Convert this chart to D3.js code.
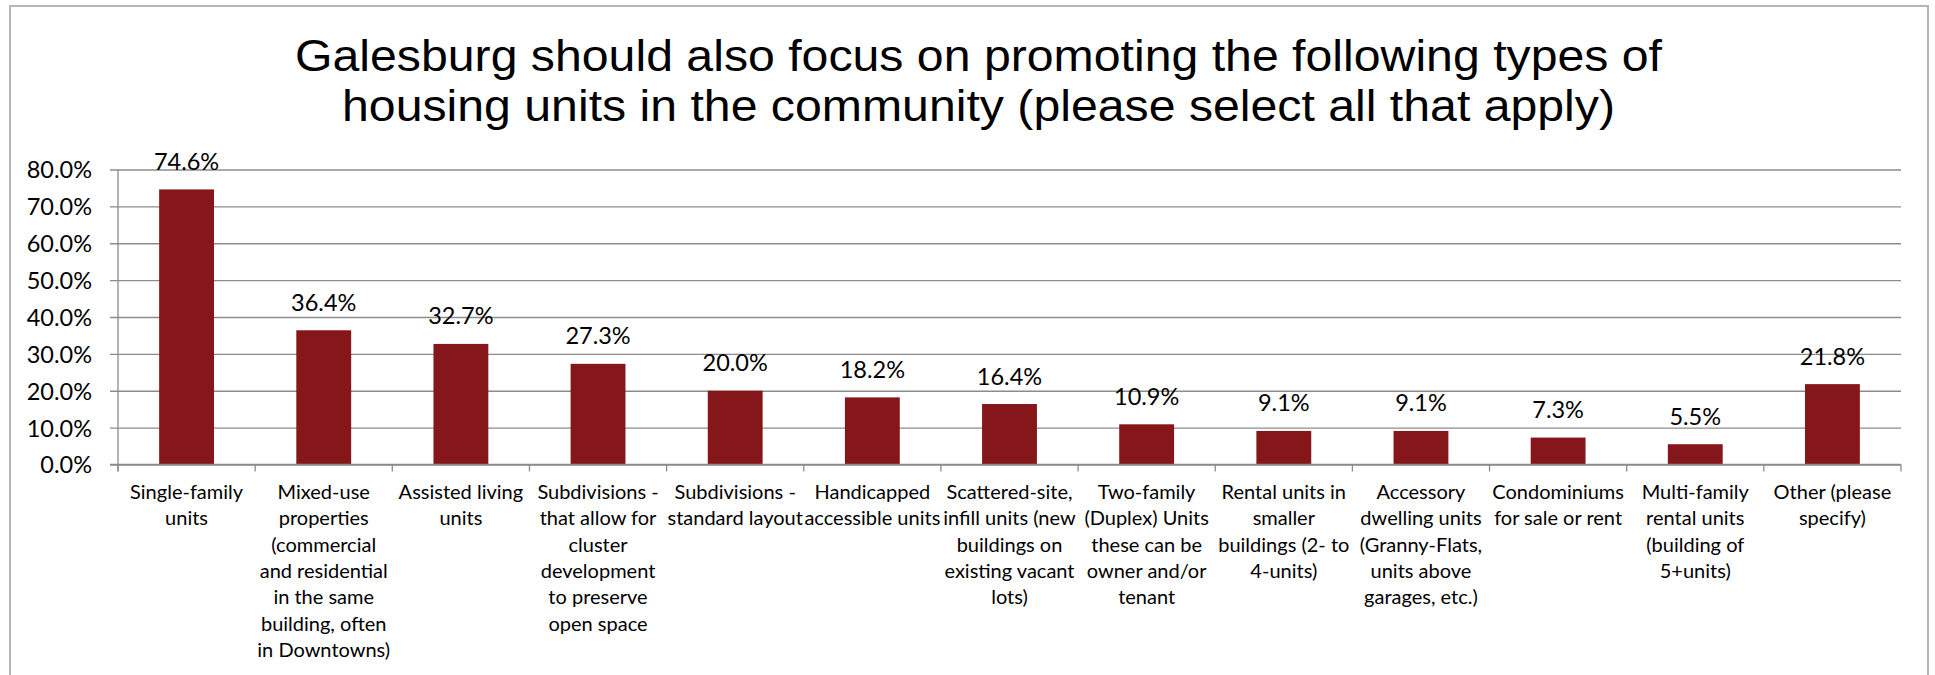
<!DOCTYPE html>
<html>
<head>
<meta charset="utf-8">
<script src="https://cdn.jsdelivr.net/npm/d3@7"></script>
<style>
  body { margin: 0; background: #fff; }
  svg { display: block; }
</style>
</head>
<body>
<svg id="housingChart" width="1935" height="675"></svg>
<script>
// survey answers, line breaks as in the original labels
const categories = [
    "Single-family\nunits",
    "Mixed-use\nproperties\n(commercial\nand residential\nin the same\nbuilding, often\nin Downtowns)",
    "Assisted living\nunits",
    "Subdivisions -\nthat allow for\ncluster\ndevelopment\nto preserve\nopen space",
    "Subdivisions -\nstandard layout",
    "Handicapped\naccessible units",
    "Scattered-site,\ninfill units (new\nbuildings on\nexisting vacant\nlots)",
    "Two-family\n(Duplex) Units\nthese can be\nowner and/or\ntenant",
    "Rental units in\nsmaller\nbuildings (2- to\n4-units)",
    "Accessory\ndwelling units\n(Granny-Flats,\nunits above\ngarages, etc.)",
    "Condominiums\nfor sale or rent",
    "Multi-family\nrental units\n(building of\n5+units)",
    "Other (please\nspecify)"
];
const percentages = [74.6, 36.4, 32.7, 27.3, 20.0, 18.2, 16.4, 10.9, 9.1, 9.1, 7.3, 5.5, 21.8];
const yTicks = [0, 10, 20, 30, 40, 50, 60, 70, 80];
const titleLines = [
    "Galesburg should also focus on promoting the following types of",
    "housing units in the community (please select all that apply)"
];

const svg = d3.select("#housingChart"),
    plot = { left: 118, right: 1901, top: 169.5, bottom: 464.5 },
    barColor = "#85171a",
    gridColor = "#8c8c8c";

// chart frame
svg.append("rect")
    .attr("x", 10).attr("y", 6)
    .attr("width", 1918).attr("height", 720)
    .attr("fill", "#fff")
    .attr("stroke", "#b5b5b5")
    .attr("stroke-width", 2);

// title (stretched to the measured widths)
const titleX = [295, 342], titleY = [71, 121], titleW = [1367, 1273];
svg.selectAll(".title")
    .data(titleLines)
    .enter().append("text")
    .attr("class", "title")
    .attr("x", (d, i) => titleX[i])
    .attr("y", (d, i) => titleY[i])
    .attr("textLength", (d, i) => titleW[i])
    .attr("lengthAdjust", "spacingAndGlyphs")
    .style("font-family", "'Liberation Sans', Arial, sans-serif")
    .style("font-size", "44px")
    .style("fill", "#000")
    .text(d => d);

const x = d3.scaleBand()
    .domain(categories)
    .range([plot.left, plot.right])
    .paddingInner(0.6)
    .paddingOuter(0.3);

const y = d3.scaleLinear()
    .domain([0, 80])
    .range([plot.bottom, plot.top]);

// gridlines + y axis labels
const yAxis = svg.append("g")
    .attr("transform", `translate(${plot.left},0)`)
    .call(d3.axisLeft(y)
        .tickValues(yTicks)
        .tickSize(-(plot.right - plot.left))
        .tickSizeOuter(0)
        .tickPadding(26)
        .tickFormat(d => d.toFixed(1) + "%"));

yAxis.select(".domain").remove();
yAxis.selectAll(".tick line")
    .attr("x1", -8)
    .attr("stroke", gridColor)
    .attr("stroke-width", 1.3);
yAxis.selectAll(".tick text")
    .attr("dy", "0.36em")
    .style("font-family", "Lato, sans-serif")
    .style("font-size", "23.5px")
    .style("fill", "#000");

// vertical axis line
svg.append("line")
    .attr("x1", plot.left).attr("x2", plot.left)
    .attr("y1", plot.top).attr("y2", plot.bottom + 7)
    .attr("stroke", gridColor)
    .attr("stroke-width", 1.3);

// bars
svg.selectAll(".bar")
    .data(percentages)
    .enter().append("rect")
    .attr("class", "bar")
    .attr("x", (d, i) => x(categories[i]))
    .attr("y", d => y(d))
    .attr("width", x.bandwidth())
    .attr("height", d => y(0) - y(d))
    .attr("fill", barColor);

// value labels
svg.selectAll(".value")
    .data(percentages)
    .enter().append("text")
    .attr("class", "value")
    .attr("x", (d, i) => x(categories[i]) + x.bandwidth() / 2)
    .attr("y", d => y(d) - 19.5)
    .attr("text-anchor", "middle")
    .style("font-family", "Lato, sans-serif")
    .style("font-size", "23.5px")
    .style("fill", "#000")
    .text(d => d.toFixed(1) + "%");

// x axis: baseline, ticks at category boundaries, wrapped labels
svg.append("line")
    .attr("x1", plot.left - 8).attr("x2", plot.right)
    .attr("y1", y(0)).attr("y2", y(0))
    .attr("stroke", gridColor)
    .attr("stroke-width", 1.3);

const bounds = d3.range(categories.length + 1).map(i => plot.left + i * x.step());
svg.selectAll(".xtick")
    .data(bounds)
    .enter().append("line")
    .attr("class", "xtick")
    .attr("x1", d => d).attr("x2", d => d)
    .attr("y1", y(0)).attr("y2", y(0) + 7)
    .attr("stroke", gridColor)
    .attr("stroke-width", 1.3);

const labels = svg.selectAll(".xlabel")
    .data(categories)
    .enter().append("text")
    .attr("class", "xlabel")
    .attr("text-anchor", "middle")
    .style("font-family", "Lato, sans-serif")
    .style("font-size", "20px")
    .style("fill", "#000");

labels.selectAll("tspan")
    .data(d => d.split("\n").map(line => ({ line, cat: d })))
    .enter().append("tspan")
    .attr("x", d => x(d.cat) + x.bandwidth() / 2)
    .attr("y", (d, i) => 499 + i * 26.3)
    .text(d => d.line);
</script>
</body>
</html>
